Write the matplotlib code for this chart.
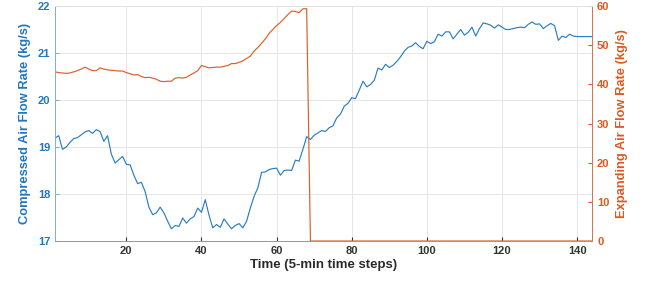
import matplotlib
matplotlib.use("Agg")
import matplotlib.pyplot as plt
import numpy as np

time_steps = list(range(1, 145))

compressed_flow = [
    19.19, 19.24, 18.95, 19.00, 19.10, 19.18, 19.20, 19.26, 19.32, 19.35,
    19.29, 19.37, 19.33, 19.12, 19.24, 18.85, 18.66, 18.73, 18.80, 18.63,
    18.62, 18.40, 18.22, 18.25, 18.05, 17.72, 17.56, 17.60, 17.72, 17.60,
    17.42, 17.26, 17.33, 17.31, 17.49, 17.38, 17.47, 17.52, 17.70, 17.61,
    17.88, 17.55, 17.28, 17.35, 17.29, 17.47, 17.36, 17.26, 17.33, 17.37,
    17.28, 17.42, 17.70, 17.95, 18.13, 18.46, 18.47, 18.52, 18.54, 18.55,
    18.40, 18.50, 18.51, 18.50, 18.72, 18.70, 18.95, 19.22, 19.16, 19.25,
    19.30, 19.35, 19.33, 19.41, 19.45, 19.62, 19.70, 19.87, 19.93, 20.05,
    20.03, 20.21, 20.40, 20.28, 20.33, 20.42, 20.68, 20.64, 20.76, 20.69,
    20.74, 20.82, 20.92, 21.04, 21.12, 21.15, 21.22, 21.14, 21.09, 21.25,
    21.20, 21.24, 21.40, 21.36, 21.45, 21.45, 21.30, 21.40, 21.50, 21.38,
    21.44, 21.55, 21.36, 21.52, 21.64, 21.62, 21.59, 21.53, 21.60, 21.55,
    21.50, 21.50, 21.52, 21.54, 21.55, 21.54, 21.61, 21.66, 21.61, 21.62,
    21.52, 21.58, 21.63, 21.58, 21.27, 21.36, 21.33, 21.40, 21.36, 21.35,
    21.35, 21.35, 21.35, 21.35,
]

expanding_flow = [
    43.2, 43.0, 42.9, 42.8, 42.9, 43.2, 43.5, 43.9, 44.4, 43.9,
    43.5, 43.5, 44.2, 43.9, 43.7, 43.6, 43.5, 43.4, 43.4, 43.0,
    42.7, 42.4, 42.5, 42.0, 41.7, 41.8, 41.6, 41.3, 40.8, 40.7,
    40.8, 40.8, 41.6, 41.7, 41.6, 41.8, 42.4, 42.9, 43.5, 44.8,
    44.5, 44.2, 44.3, 44.4, 44.4, 44.6, 44.8, 45.3, 45.3, 45.6,
    46.0, 46.6, 47.2, 48.5, 49.4, 50.5, 51.6, 53.0, 54.0, 55.0,
    55.8, 56.8, 57.8, 58.7, 58.6, 58.3, 59.3, 59.3,
] + [0.0] * 76

x_ticks = [20, 40, 60, 80, 100, 120, 140]
left_ticks = [17, 18, 19, 20, 21, 22]
right_ticks = [0, 10, 20, 30, 40, 50, 60]

BLUE = "#1f77c0"
ORANGE = "#D95319"
plt.rcParams["font.family"] = ["Liberation Sans", "DejaVu Sans"]

fig = plt.figure(figsize=(6.5, 2.82), dpi=100)
ax = fig.add_axes([0.0846, 0.1454, 0.8264, 0.8333])
ax2 = ax.twinx()

ax.plot(time_steps, compressed_flow, color="#2a7fc4", lw=0.85)
ax2.plot(time_steps, expanding_flow, color="#D9602A", lw=0.85)

ax.set_xlim(1, 144)
ax.set_ylim(17, 22)
ax2.set_ylim(0, 60)
ax.set_xticks(x_ticks)
ax.set_yticks(left_ticks)
ax2.set_yticks(right_ticks)

ax.grid(True, color="#e6e6e6", lw=0.7)
ax.set_axisbelow(True)

for a in (ax, ax2):
    a.spines["top"].set_color("#e3e3e3")
    a.spines["bottom"].set_color("#999999")
    a.spines["left"].set_color("#7fb0d8")
    a.spines["right"].set_color("#D9754A")
    for s in a.spines.values():
        s.set_linewidth(0.7)

ax.tick_params(axis="x", direction="in", length=3, colors="#333333", labelsize=8)
ax.tick_params(axis="y", direction="in", length=3, colors=BLUE, labelsize=8)
ax.tick_params(axis="y", color="#7fb0d8")
ax2.tick_params(axis="y", direction="in", length=3, colors="#D95a22", labelsize=8)
for lab in ax.get_xticklabels() + ax.get_yticklabels() + ax2.get_yticklabels():
    lab.set_fontweight("bold")

ax.set_xlabel("Time (5-min time steps)", fontsize=9.5, fontweight="bold", color="#2a2a2a", labelpad=2)
ax.set_ylabel("Compressed Air Flow Rate (kg/s)", fontsize=9.3, fontweight="bold", color=BLUE, labelpad=5)
ax2.set_ylabel("Expanding Air Flow Rate (kg/s)", fontsize=9.3, fontweight="bold", color="#D95a22", labelpad=5)

fig.savefig("out.png", dpi=100)
